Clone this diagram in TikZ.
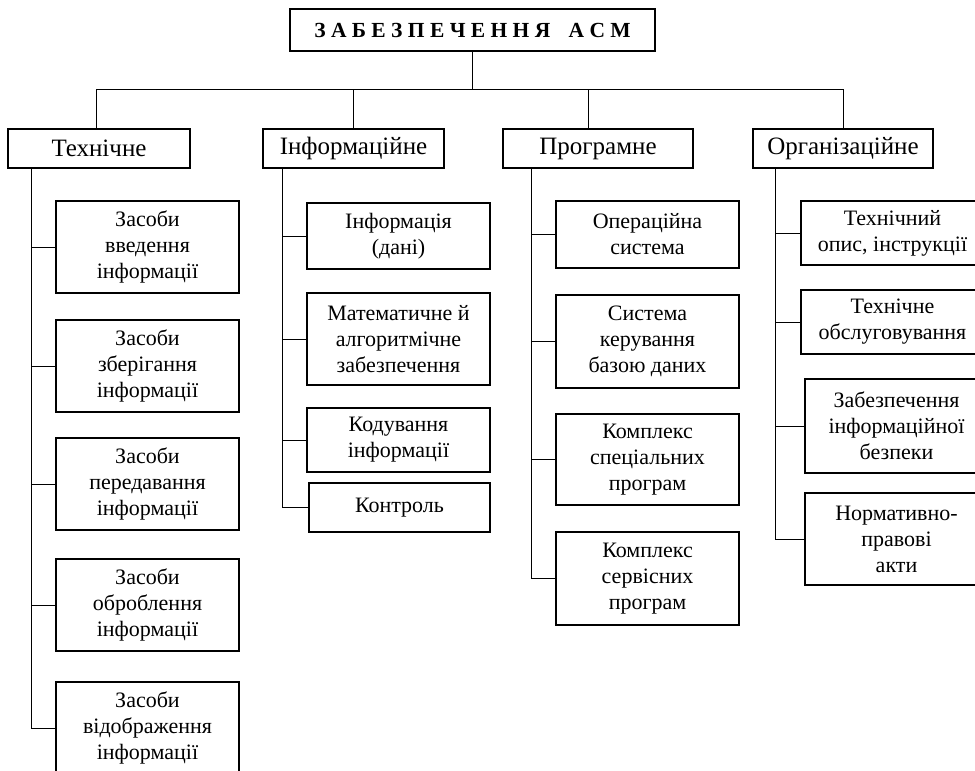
\documentclass[tikz,border=0pt]{standalone}
\usepackage{fontspec}
\setmainfont{Liberation Serif}
\usetikzlibrary{positioning}

\begin{document}
\begin{tikzpicture}[x=1pt,y=-1pt,
  head/.style={rectangle,draw,line width=2pt,inner sep=0pt,minimum width=365pt,
               minimum height=42pt,font=\fontsize{21.5}{24}\selectfont\bfseries},
  cat/.style={rectangle,draw,line width=1.5pt,inner sep=0pt,minimum width=#1,
              minimum height=39pt,font=\fontsize{25}{30}\selectfont},
  leaf/.style={rectangle,draw,line width=1.5pt,inner sep=0pt,minimum width=183pt,
               minimum height=#1,align=center,font=\fontsize{22}{26}\selectfont},
  leaf/.default=92pt,
  ln/.style={line width=0.8pt},
]
  \clip (0,0) rectangle (975,771);

  % top
  \node[head] (top) at (472.5,30) {З А Б Е З П Е Ч Е Н Н Я\hspace{0.6em} А С М};
  % categories
  \node[cat=182pt] (tech) at (99,148.5) {Технічне};
  \node[cat=181pt] (info) at (353.5,148.5) {Інформаційне};
  \node[cat=190pt] (prog) at (598,148.5) {Програмне};
  \node[cat=180pt] (org) at (843,148.5) {Організаційне};

  % technical
  \node[leaf] (t1) at (147.5,247) {Засоби\\введення\\інформації};
  \node[leaf] (t2) at (147.5,366) {Засоби\\зберігання\\інформації};
  \node[leaf] (t3) at (147.5,484) {Засоби\\передавання\\інформації};
  \node[leaf] (t4) at (147.5,605) {Засоби\\оброблення\\інформації};
  \node[leaf] (t5) at (147.5,728) {Засоби\\відображення\\інформації};
  % information
  \node[leaf=66pt] (i1) at (398.5,236) {Інформація\\(дані)};
  \node[leaf] (i2) at (398.5,339) {Математичне й\\алгоритмічне\\забезпечення};
  \node[leaf=64pt] (i3) at (398.5,440) {Кодування\\інформації};
  \node[leaf=49pt,minimum width=181pt] (i4) at (399.5,507.5) {Контроль};
  % software
  \node[leaf=67pt] (p1) at (647.5,234.5) {Операційна\\система};
  \node[leaf=93pt] (p2) at (647.5,341.5) {Система\\керування\\базою даних};
  \node[leaf=91pt] (p3) at (647.5,459.5) {Комплекс\\спеціальних\\програм};
  \node[leaf=93pt] (p4) at (647.5,578.5) {Комплекс\\сервісних\\програм};
  % organisational
  \node[leaf=64pt] (o1) at (892.5,233) {Технічний\\опис, інструкції};
  \node[leaf=64pt] (o2) at (892.5,322) {Технічне\\обслуговування};
  \node[leaf=94pt] (o3) at (896.5,426) {Забезпечення\\інформаційної\\безпеки};
  \node[leaf] (o4) at (896.5,539) {Нормативно-\\правові\\акти};

  % bus
  \coordinate (busL) at (96,89);
  \coordinate (busR) at (843,89);
  \draw[ln] (busL) -- (busR);
  \draw[ln] (top.south) -- (top.south |- busL);
  \draw[ln] (tech.north -| busL) -- (busL);
  \draw[ln] (info.north) -- (info.north |- busL);
  \draw[ln] ([xshift=-10pt]prog.north) -- ([xshift=-10pt]prog.north |- busL);
  \draw[ln] (org.north) -- (org.north |- busL);

  % trunks
  \coordinate (tk) at ([xshift=24pt]tech.south west);
  \foreach \n in {t1,t2,t3,t4,t5} \draw[ln] (tk) |- (\n.west);
  \coordinate (ik) at ([xshift=20pt]info.south west);
  \foreach \n in {i1,i2,i3,i4} \draw[ln] (ik) |- (\n.west);
  \coordinate (pk) at ([xshift=29pt]prog.south west);
  \foreach \n in {p1,p2,p3,p4} \draw[ln] (pk) |- (\n.west);
  \coordinate (ok) at ([xshift=23pt]org.south west);
  \foreach \n in {o1,o2,o3,o4} \draw[ln] (ok) |- (\n.west);
\end{tikzpicture}
\end{document}
